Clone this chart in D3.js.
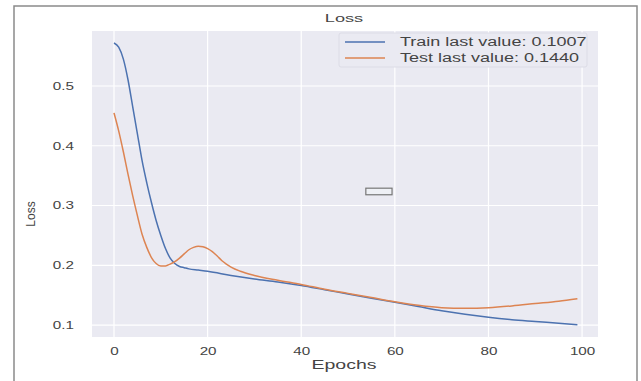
<!DOCTYPE html>
<html>
<head>
<meta charset="utf-8">
<script src="https://cdn.jsdelivr.net/npm/d3@7"></script>
<style>
  body { margin: 0; background: #fff; }
  svg { display: block; font-family: "Liberation Sans", Arial, sans-serif; }
</style>
</head>
<body>
<div id="chart"></div>
<script>
// Loss per epoch
const trainEpochs = [0, 1, 2, 3, 4, 5, 6, 7, 8, 9, 10, 11, 12, 13, 14, 15, 16, 18, 20, 25, 30, 35, 40, 45, 50, 55, 60, 65, 70, 75, 80, 85, 90, 95, 99];
const trainLoss = [0.572, 0.565, 0.545, 0.51, 0.465, 0.42, 0.375, 0.338, 0.305, 0.275, 0.25, 0.228, 0.212, 0.203, 0.198, 0.196, 0.194, 0.192, 0.19, 0.183, 0.177, 0.172, 0.166, 0.159, 0.152, 0.145, 0.138, 0.131, 0.124, 0.118, 0.113, 0.109, 0.106, 0.103, 0.1007];

const testEpochs = [0, 1, 2, 3, 4, 5, 6, 7, 8, 9, 10, 11, 12, 13, 14, 15, 16, 17, 18, 19, 20, 21, 22, 23, 24, 25, 27, 30, 35, 40, 45, 50, 55, 60, 65, 70, 75, 80, 85, 90, 95, 99];
const testLoss = [0.455, 0.425, 0.39, 0.352, 0.316, 0.283, 0.252, 0.23, 0.213, 0.203, 0.199, 0.199, 0.202, 0.206, 0.212, 0.219, 0.226, 0.23, 0.232, 0.231, 0.228, 0.223, 0.216, 0.208, 0.202, 0.197, 0.19, 0.183, 0.175, 0.168, 0.16, 0.153, 0.146, 0.139, 0.133, 0.129, 0.128, 0.129, 0.132, 0.136, 0.14, 0.144];

const xTicks = [0, 20, 40, 60, 80, 100];
const yTicks = [0.1, 0.2, 0.3, 0.4, 0.5];
const seriesNames = ["Train last value: 0.1007", "Test last value: 0.1440"];
const seriesColors = ["#4c72b0", "#dd8452"];

// stray empty box in the original figure (data units)
const strayBox = { x0: 53.8, x1: 59.4, y0: 0.329, y1: 0.318 };

const W = 641, H = 381;
const plot = { left: 92, top: 31, right: 598, bottom: 337 };

// the source image is stretched sideways, so widen text the same way
function stretch(sel, f) {
    sel.each(function () {
        const w = this.getComputedTextLength();
        d3.select(this)
            .attr("textLength", w * f)
            .attr("lengthAdjust", "spacingAndGlyphs");
    });
}

const svg = d3.select("#chart").append("svg")
    .attr("width", W)
    .attr("height", H);

// figure border
svg.append("rect")
    .attr("x", 14).attr("y", 6)
    .attr("width", 623).attr("height", 400)
    .attr("fill", "#fff")
    .attr("stroke", "#8a8a8a")
    .attr("stroke-width", 1.5);

const x = d3.scaleLinear().domain([-4.7, 103.4]).range([plot.left, plot.right]);
const y = d3.scaleLinear().domain([0.08, 0.592]).range([plot.bottom, plot.top]);

svg.append("rect")
    .attr("x", plot.left).attr("y", plot.top)
    .attr("width", plot.right - plot.left)
    .attr("height", plot.bottom - plot.top)
    .attr("fill", "#eaeaf2");

// grid
svg.append("g").selectAll("line").data(xTicks).join("line")
    .attr("x1", d => x(d)).attr("x2", d => x(d))
    .attr("y1", plot.top).attr("y2", plot.bottom)
    .attr("stroke", "#fff").attr("stroke-width", 1.2);
svg.append("g").selectAll("line").data(yTicks).join("line")
    .attr("x1", plot.left).attr("x2", plot.right)
    .attr("y1", d => y(d)).attr("y2", d => y(d))
    .attr("stroke", "#fff").attr("stroke-width", 1.2);

// axes (labels only, seaborn darkgrid style)
const xAxis = svg.append("g")
    .attr("transform", `translate(0,${plot.bottom})`)
    .call(d3.axisBottom(x).tickValues(xTicks).tickSize(0).tickPadding(11).tickFormat(d3.format("d")));
const yAxis = svg.append("g")
    .attr("transform", `translate(${plot.left},0)`)
    .call(d3.axisLeft(y).tickValues(yTicks).tickSize(0).tickPadding(18).tickFormat(d3.format(".1f")));
[xAxis, yAxis].forEach(a => {
    a.select(".domain").remove();
    a.selectAll("text")
        .attr("fill", "#444")
        .style("font-size", "10.5px")
        .style("font-family", "'Liberation Sans', Arial, sans-serif")
        .call(stretch, 1.45);
});

// lines
const line = d3.line()
    .x(d => x(d[0]))
    .y(d => y(d[1]))
    .curve(d3.curveMonotoneX);

const series = [
    d3.zip(trainEpochs, trainLoss),
    d3.zip(testEpochs, testLoss)
];

svg.append("g").selectAll("path").data(series).join("path")
    .attr("fill", "none")
    .attr("stroke", (d, i) => seriesColors[i])
    .attr("stroke-width", 1.5)
    .attr("d", line);

// stray box
svg.append("rect")
    .attr("x", x(strayBox.x0)).attr("y", y(strayBox.y0))
    .attr("width", x(strayBox.x1) - x(strayBox.x0))
    .attr("height", y(strayBox.y1) - y(strayBox.y0))
    .attr("fill", "#eef0f5")
    .attr("stroke", "#777")
    .attr("stroke-width", 1.2);

// legend
const legend = svg.append("g").attr("transform", "translate(339,33)");
legend.append("rect")
    .attr("width", 248).attr("height", 34)
    .attr("rx", 2)
    .attr("fill", "#eaeaf2")
    .attr("stroke", "#dcdce6");
seriesNames.forEach((name, i) => {
    const g = legend.append("g").attr("transform", `translate(0,${9 + i * 16})`);
    g.append("line")
        .attr("x1", 6).attr("x2", 46)
        .attr("stroke", seriesColors[i]).attr("stroke-width", 1.5);
    g.append("text")
        .attr("x", 61).attr("dy", "0.35em")
        .attr("fill", "#444")
        .style("font-size", "12px")
        .text(name)
        .call(stretch, 1.5);
});

// title and axis labels
svg.append("text")
    .attr("x", 344)
    .attr("y", 22)
    .attr("text-anchor", "middle")
    .attr("fill", "#444")
    .style("font-size", "11px")
    .text("Loss")
    .call(stretch, 1.65);

svg.append("text")
    .attr("x", 344)
    .attr("y", 369)
    .attr("text-anchor", "middle")
    .attr("fill", "#444")
    .style("font-size", "13px")
    .text("Epochs")
    .call(stretch, 1.5);

svg.append("text")
    .attr("transform", "translate(35,214) rotate(-90)")
    .attr("text-anchor", "middle")
    .attr("fill", "#444")
    .style("font-size", "12px")
    .text("Loss");
</script>
</body>
</html>
